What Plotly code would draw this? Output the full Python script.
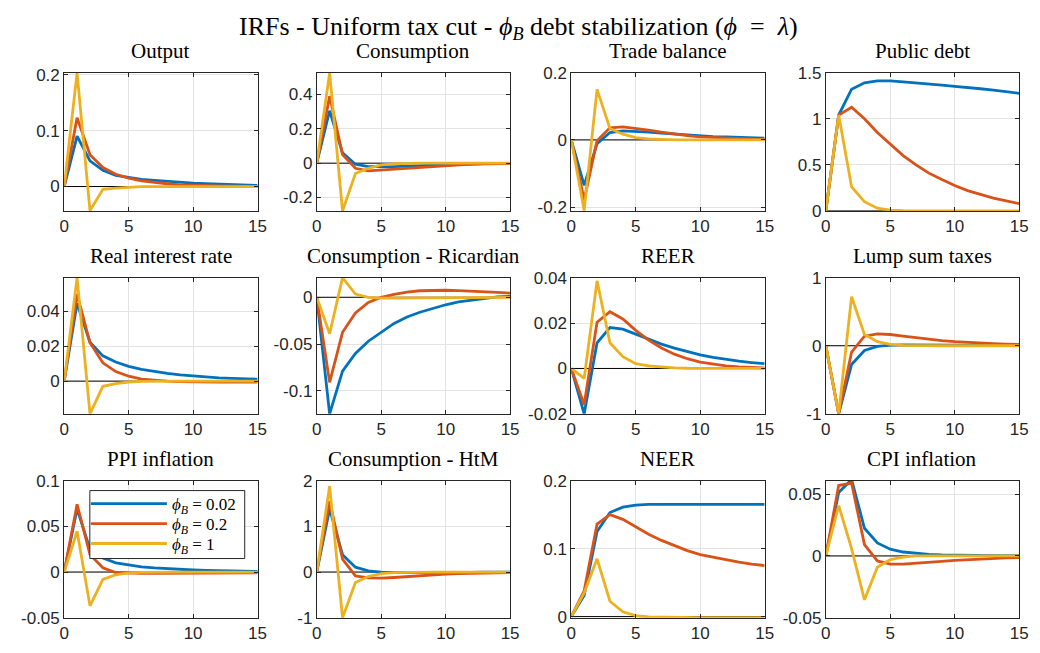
import plotly.graph_objects as go

periods = list(range(16))

titles = ["Output", "Consumption", "Trade balance", "Public debt",
          "Real interest rate", "Consumption - Ricardian", "REER", "Lump sum taxes",
          "PPI inflation", "Consumption - HtM", "NEER", "CPI inflation"]

series_names = ["<i>ϕ</i><sub><i>B</i></sub> = 0.02",
                "<i>ϕ</i><sub><i>B</i></sub> = 0.2",
                "<i>ϕ</i><sub><i>B</i></sub> = 1"]

# values per panel: [phiB=0.02, phiB=0.2, phiB=1]
output = [
    [0, 0.090, 0.046, 0.029, 0.020, 0.016, 0.013, 0.011, 0.009, 0.007, 0.006, 0.005, 0.004, 0.003, 0.003, 0.002],
    [0, 0.123, 0.057, 0.034, 0.022, 0.015, 0.010, 0.007, 0.005, 0.003, 0.002, 0.001, 0.001, 0.0005, 0.0003, 0.0002],
    [0, 0.203, -0.043, -0.005, -0.003, -0.001, 0, 0, 0, 0, 0, 0, 0, 0, 0, 0],
]
consumption = [
    [0, 0.305, 0.060, -0.006, -0.020, -0.022, -0.020, -0.017, -0.014, -0.011, -0.009, -0.007, -0.005, -0.004, -0.003, -0.002],
    [0, 0.390, 0.050, -0.030, -0.045, -0.040, -0.035, -0.028, -0.022, -0.017, -0.012, -0.008, -0.005, -0.003, -0.002, -0.001],
    [0, 0.525, -0.278, -0.060, -0.030, -0.010, -0.004, -0.001, 0, 0, 0, 0, 0, 0, 0, 0],
]
trade_balance = [
    [0, -0.135, -0.011, 0.022, 0.027, 0.026, 0.023, 0.020, 0.017, 0.014, 0.012, 0.010, 0.009, 0.007, 0.006, 0.005],
    [0, -0.178, -0.002, 0.036, 0.039, 0.035, 0.029, 0.023, 0.017, 0.013, 0.009, 0.007, 0.005, 0.003, 0.002, 0.001],
    [0, -0.210, 0.150, 0.034, 0.017, 0.007, 0.003, 0.001, 0, 0, 0, 0, 0, 0, 0, 0],
]
public_debt = [
    [0, 1.04, 1.32, 1.39, 1.41, 1.41, 1.40, 1.39, 1.38, 1.365, 1.35, 1.34, 1.325, 1.31, 1.295, 1.275],
    [0, 1.04, 1.125, 1.00, 0.85, 0.72, 0.60, 0.50, 0.41, 0.34, 0.275, 0.22, 0.18, 0.14, 0.11, 0.08],
    [0, 1.04, 0.26, 0.10, 0.03, 0.01, 0.003, 0.001, 0, 0, 0, 0, 0, 0, 0, 0],
]
real_rate = [
    [0, 0.0447, 0.0223, 0.0145, 0.0110, 0.0085, 0.0068, 0.0055, 0.0045, 0.0036, 0.0029, 0.0023, 0.0019, 0.0016, 0.0013, 0.0011],
    [0, 0.0500, 0.0220, 0.0105, 0.0055, 0.0028, 0.0012, 0.0004, 0, -0.0003, -0.0005, -0.0006, -0.0006, -0.0006, -0.0006, -0.0005],
    [0, 0.0594, -0.0188, -0.0030, -0.0015, -0.0005, -0.0002, 0, 0, 0, 0, 0, 0, 0, 0, 0],
]
cons_ric = [
    [0, -0.1247, -0.079, -0.060, -0.047, -0.037, -0.028, -0.021, -0.016, -0.012, -0.008, -0.005, -0.003, -0.001, 0.0005, 0.001],
    [0, -0.091, -0.0375, -0.0167, -0.0055, 0.0, 0.003, 0.0055, 0.007, 0.0075, 0.0075, 0.0072, 0.0068, 0.006, 0.0052, 0.0045],
    [0, -0.039, 0.021, 0.0035, 0.0, -0.001, -0.001, -0.001, -0.001, -0.001, -0.0008, -0.0006, -0.0005, -0.0004, -0.0003, -0.0002],
]
reer = [
    [0, -0.0200, 0.0113, 0.0180, 0.0173, 0.0150, 0.0128, 0.0107, 0.0090, 0.0074, 0.0060, 0.0049, 0.0040, 0.0032, 0.0026, 0.0021],
    [0, -0.0160, 0.0204, 0.0250, 0.0218, 0.0168, 0.0125, 0.0090, 0.0063, 0.0043, 0.0028, 0.0018, 0.0011, 0.0007, 0.0004, 0.0002],
    [0, -0.0044, 0.0386, 0.0113, 0.0052, 0.0021, 0.0011, 0.0006, 0.0003, 0.0001, 0, 0, 0, 0, 0, 0],
]
lump_sum = [
    [0, -1.0, -0.275, -0.070, -0.010, 0.010, 0.012, 0.012, 0.011, 0.010, 0.009, 0.008, 0.008, 0.007, 0.006, 0.006],
    [0, -1.0, -0.095, 0.140, 0.175, 0.165, 0.140, 0.115, 0.095, 0.075, 0.060, 0.048, 0.038, 0.030, 0.024, 0.019],
    [0, -1.0, 0.720, 0.165, 0.060, 0.020, 0.007, 0.002, 0, 0, 0, 0, 0, 0, 0, 0],
]
ppi = [
    [0, 0.069, 0.025, 0.0154, 0.0100, 0.0075, 0.0057, 0.0045, 0.0035, 0.0028, 0.0022, 0.0017, 0.0013, 0.0010, 0.0008, 0.0006],
    [0, 0.074, 0.019, 0.0046, -0.0005, -0.0012, -0.0015, -0.0015, -0.0014, -0.0013, -0.0012, -0.0011, -0.0010, -0.0009, -0.0008, -0.0008],
    [0, 0.0446, -0.037, -0.008, -0.003, -0.001, -0.0003, 0, 0, 0, 0, 0, 0, 0, 0, 0],
]
cons_htm = [
    [0, 1.38, 0.38, 0.107, 0.025, -0.005, -0.010, -0.012, -0.010, -0.009, -0.008, -0.007, -0.006, -0.005, -0.004, -0.004],
    [0, 1.55, 0.28, -0.085, -0.130, -0.135, -0.120, -0.100, -0.080, -0.062, -0.048, -0.036, -0.027, -0.020, -0.015, -0.011],
    [0, 1.88, -1.0, -0.23, -0.10, -0.035, -0.012, -0.004, 0, 0, 0, 0, 0, 0, 0, 0],
]
neer = [
    [0, 0.031, 0.125, 0.153, 0.161, 0.164, 0.165, 0.165, 0.165, 0.165, 0.165, 0.165, 0.165, 0.165, 0.165, 0.165],
    [0, 0.038, 0.136, 0.150, 0.143, 0.132, 0.121, 0.112, 0.104, 0.097, 0.091, 0.087, 0.083, 0.080, 0.077, 0.075],
    [0, 0.035, 0.085, 0.0226, 0.007, 0.0015, -0.0005, -0.001, -0.0012, -0.0013, -0.0014, -0.0014, -0.0015, -0.0015, -0.0015, -0.0015],
]
cpi = [
    [0, 0.0513, 0.0618, 0.0224, 0.0105, 0.0055, 0.0032, 0.0020, 0.0013, 0.0009, 0.0006, 0.0005, 0.0004, 0.0003, 0.0002, 0.0002],
    [0, 0.0570, 0.0590, 0.0092, -0.0040, -0.0066, -0.0066, -0.0060, -0.0050, -0.0043, -0.0036, -0.0030, -0.0025, -0.0020, -0.0016, -0.0013],
    [0, 0.0408, 0.0060, -0.0355, -0.0092, -0.0030, -0.0010, 0, 0, 0, 0, 0, 0, 0, 0, 0],
]

panels = [output, consumption, trade_balance, public_debt,
          real_rate, cons_ric, reer, lump_sum,
          ppi, cons_htm, neer, cpi]

y_ranges = [[-0.0436, 0.2036], [-0.278, 0.527], [-0.211, 0.2], [0, 1.5],
            [-0.0188, 0.0594], [-0.1247, 0.021], [-0.02, 0.04], [-1, 1],
            [-0.05, 0.1], [-1, 2], [-0.0017, 0.2], [-0.05, 0.061]]

y_tickvals = [[0, 0.1, 0.2], [-0.2, 0, 0.2, 0.4], [-0.2, 0, 0.2], [0, 0.5, 1, 1.5],
              [0, 0.02, 0.04], [-0.1, -0.05, 0], [-0.02, 0, 0.02, 0.04], [-1, 0, 1],
              [-0.05, 0, 0.05, 0.1], [-1, 0, 1, 2], [0, 0.1, 0.2], [-0.05, 0, 0.05]]
y_ticktext = [["0", "0.1", "0.2"], ["-0.2", "0", "0.2", "0.4"], ["-0.2", "0", "0.2"], ["0", "0.5", "1", "1.5"],
              ["0", "0.02", "0.04"], ["-0.1", "-0.05", "0"], ["-0.02", "0", "0.02", "0.04"], ["-1", "0", "1"],
              ["-0.05", "0", "0.05", "0.1"], ["-1", "0", "1", "2"], ["0", "0.1", "0.2"], ["-0.05", "0", "0.05"]]
x_tickvals = [0, 5, 10, 15]
x_ticktext = ["0", "5", "10", "15"]

colors = ["#0072BD", "#D95319", "#EDB120"]

W, H = 1040, 653
col_px = [(60, 256), (316, 512), (574, 770), (832, 1028)]
row_px = [(65.5, 208), (276.7, 417), (485.7, 627)]

fig = go.Figure()
layout = dict(width=W, height=H, margin=dict(l=0, r=0, t=0, b=0),
              paper_bgcolor="white", plot_bgcolor="white", showlegend=True)
annotations = []
legend_ids = ["legend", "legend2", "legend3"]

for i, data in enumerate(panels):
    r, c = divmod(i, 4)
    n = i + 1
    xa = "xaxis" if n == 1 else f"xaxis{n}"
    ya = "yaxis" if n == 1 else f"yaxis{n}"
    xref = "x" if n == 1 else f"x{n}"
    yref = "y" if n == 1 else f"y{n}"
    x0, x1 = col_px[c]
    y0, y1 = row_px[r]
    common = dict(showline=True, linecolor="#262626", linewidth=1, mirror="ticks",
                  ticks="inside", ticklen=4, tickcolor="#262626", tickwidth=1,
                  showgrid=True, gridcolor="#e3e3e3", gridwidth=1, zeroline=False,
                  tickfont=dict(family="Liberation Sans, Arial, sans-serif", size=17, color="#262626"))
    layout[xa] = dict(domain=[x0 / W, x1 / W], anchor=yref, range=[0, 15],
                      tickmode="array", tickvals=x_tickvals, ticktext=x_ticktext, **common)
    layout[ya] = dict(domain=[1 - y1 / H, 1 - y0 / H], anchor=xref, range=y_ranges[i],
                      tickmode="array", tickvals=y_tickvals[i], ticktext=y_ticktext[i], **common)
    # zero line
    fig.add_trace(go.Scatter(x=[periods[0], periods[-1]], y=[0, 0], mode="lines",
                             line=dict(color="black", width=1), showlegend=False,
                             hoverinfo="skip", xaxis=xref, yaxis=yref))
    for k in range(3):
        fig.add_trace(go.Scatter(x=periods, y=data[k], mode="lines",
                                 line=dict(color=colors[k], width=2.8),
                                 name=series_names[k], showlegend=(i == 0),
                                 legend=legend_ids[k],
                                 xaxis=xref, yaxis=yref))
    annotations.append(dict(text=titles[i], xref="paper", yref="paper",
                            x=(x0 + x1) / 2 / W, y=1 - (y0 - 8) / H,
                            xanchor="center", yanchor="bottom", showarrow=False,
                            font=dict(family="Liberation Serif, serif", size=21, color="black")))

annotations.append(dict(text="IRFs - Uniform tax cut - <i>ϕ</i><sub><i>B</i></sub> debt stabilization (<i>ϕ</i>  =  <i>λ</i>)",
                        xref="paper", yref="paper", x=0.5, y=1 - 1 / H,
                        xanchor="center", yanchor="top", showarrow=False,
                        font=dict(family="Liberation Serif, serif", size=26, color="black")))

layout["annotations"] = annotations

# legend frame (behind legend entries, above curves)
layout["shapes"] = [dict(type="rect", xref="paper", yref="paper",
                         x0=86 / W, x1=243 / W, y0=1 - 566 / H, y1=1 - 496 / H,
                         line=dict(color="#262626", width=1), fillcolor="white", layer="above")]

legend_rows_px = [510, 530.5, 551]
for k, lid in enumerate(legend_ids):
    layout[lid] = dict(x=82 / W, y=1 - legend_rows_px[k] / H, xanchor="left", yanchor="middle",
                       bgcolor="rgba(0,0,0,0)", borderwidth=0,
                       font=dict(family="Liberation Serif, serif", size=17, color="black"),
                       itemwidth=76)
fig.update_layout(**layout)
fig.write_html("out.html")
